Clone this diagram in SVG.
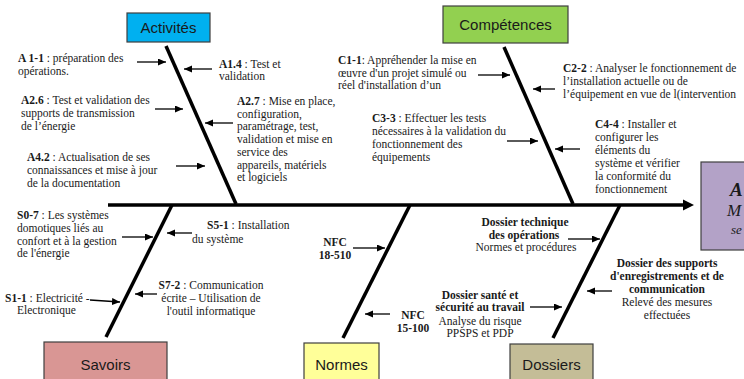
<svg xmlns="http://www.w3.org/2000/svg" width="744" height="379" viewBox="0 0 744 379">
<style>
.t{font-family:"Liberation Serif","Times New Roman",serif;font-size:11.5px;fill:#1a1a1a}
.b{font-weight:bold}
.m{text-anchor:middle}
.box{stroke:#3f3f3f;stroke-width:1.2}
.bt{font-family:"Liberation Sans",Arial,sans-serif;font-size:15px;fill:#1a1a1a;text-anchor:middle}
.bone{stroke:#000;stroke-width:3.5;fill:none}
.arr{stroke:#000;stroke-width:1.3;fill:none;marker-end:url(#ah)}
</style>
<defs>
<marker id="ah" markerUnits="userSpaceOnUse" markerWidth="9" markerHeight="8" refX="8" refY="3.5" orient="auto">
<path d="M0,0 L8,3.5 L0,7 z" fill="#000"/>
</marker>
</defs>
<rect width="744" height="379" fill="#fff"/>

<g id="connectors">
<line class="bone" x1="108" y1="205" x2="685" y2="205"/>
<polygon points="683,199.5 694,205 683,210.5" fill="#000"/>
<line class="bone" x1="166" y1="46" x2="236" y2="204"/>
<line class="bone" x1="504" y1="47" x2="573" y2="204"/>
<line class="bone" x1="172" y1="205" x2="106" y2="337"/>
<line class="bone" x1="410" y1="205" x2="343" y2="338"/>
<line class="bone" x1="620" y1="205" x2="553" y2="338"/>
<line class="arr" x1="137" y1="62" x2="166" y2="62"/>
<line class="arr" x1="212" y1="69" x2="184" y2="69"/>
<line class="arr" x1="155" y1="109" x2="183" y2="109"/>
<line class="arr" x1="233" y1="123" x2="205" y2="123"/>
<line class="arr" x1="176" y1="166" x2="205" y2="166"/>
<line class="arr" x1="478" y1="75" x2="510" y2="75"/>
<line class="arr" x1="555" y1="89" x2="533" y2="89"/>
<line class="arr" x1="507" y1="141" x2="538" y2="141"/>
<line class="arr" x1="580" y1="149" x2="555" y2="149"/>
<line class="arr" x1="122" y1="237" x2="153" y2="237"/>
<line class="arr" x1="192" y1="233" x2="167" y2="233"/>
<line class="arr" x1="157" y1="294" x2="135" y2="294"/>
<line class="arr" x1="90" y1="300" x2="120" y2="302"/>
<line class="arr" x1="353" y1="248" x2="385" y2="248"/>
<line class="arr" x1="390" y1="314" x2="365" y2="314"/>
<line class="arr" x1="568" y1="239" x2="600" y2="239"/>
<line class="arr" x1="612" y1="291" x2="587" y2="291"/>
<line class="arr" x1="530" y1="307" x2="562" y2="307"/>
</g>

<g id="activites">
<rect class="box" x="127" y="13" width="83" height="29" fill="#00b0f0"/>
<text class="bt" x="168.5" y="33">Activités</text>
</g>
<g id="competences">
<rect class="box" x="443" y="6" width="125" height="37" fill="#92d050"/>
<text class="bt" x="505.5" y="30">Compétences</text>
</g>
<g id="savoirs">
<rect class="box" x="44" y="342" width="123" height="45" fill="#d99694"/>
<text class="bt" x="105.5" y="370">Savoirs</text>
</g>
<g id="normes">
<rect class="box" x="304" y="343" width="75" height="44" fill="#ffff99"/>
<text class="bt" x="341.5" y="370">Normes</text>
</g>
<g id="dossiers">
<rect class="box" x="510" y="344" width="83" height="43" fill="#c4bd97"/>
<text class="bt" x="551.5" y="370">Dossiers</text>
</g>
<g id="effet">
<rect class="box" x="701" y="162" width="60" height="88" fill="#b3a2c7"/>
<text x="730" y="196" style="font-family:'Liberation Serif',serif;font-size:19px;font-style:italic;font-weight:bold;fill:#1a1a1a">A</text>
<text x="727" y="216" style="font-family:'Liberation Serif',serif;font-size:17px;font-style:italic;fill:#1a1a1a">M</text>
<text x="731" y="234" style="font-family:'Liberation Serif',serif;font-size:13px;font-style:italic;fill:#1a1a1a">se</text>
</g>

<g id="labels-activites">
<text class="t" x="18" y="62"><tspan class="b">A 1-1</tspan> : préparation des<tspan x="18" y="75">opérations.</tspan></text>
<text class="t" x="219" y="68"><tspan class="b">A1.4</tspan> : Test et<tspan x="219" y="80">validation</tspan></text>
<text class="t" x="21" y="104"><tspan class="b">A2.6</tspan> : Test et validation des<tspan x="21" y="117">supports de transmission</tspan><tspan x="21" y="130">de l’énergie</tspan></text>
<text class="t" x="237" y="105"><tspan class="b">A2.7</tspan> : Mise en place,<tspan x="237" y="117.7">configuration,</tspan><tspan x="237" y="130.4">paramétrage, test,</tspan><tspan x="237" y="143.1">validation et mise en</tspan><tspan x="237" y="155.8">service des</tspan><tspan x="237" y="168.5">appareils, matériels</tspan><tspan x="237" y="181.2">et logiciels</tspan></text>
<text class="t" x="27" y="161"><tspan class="b">A4.2</tspan> : Actualisation de ses<tspan x="27" y="174">connaissances et mise à jour</tspan><tspan x="27" y="187">de la documentation</tspan></text>
</g>

<g id="labels-competences">
<text class="t" x="338" y="64"><tspan class="b">C1-1</tspan>: Appréhender la mise en<tspan x="338" y="77">œuvre d'un projet simulé ou</tspan><tspan x="338" y="89">réel d'installation d’un</tspan></text>
<text class="t" x="563" y="72"><tspan class="b">C2-2</tspan> : Analyser le fonctionnement de<tspan x="563" y="85">l’installation actuelle ou de</tspan><tspan x="563" y="98">l’équipement en vue de l(intervention</tspan></text>
<text class="t" x="372" y="122"><tspan class="b">C3-3</tspan> : Effectuer les tests<tspan x="372" y="135">nécessaires à la validation du</tspan><tspan x="372" y="148">fonctionnement des</tspan><tspan x="372" y="161">équipements</tspan></text>
<text class="t" x="595" y="128"><tspan class="b">C4-4</tspan> : Installer et<tspan x="595" y="141">configurer les</tspan><tspan x="595" y="154">éléments du</tspan><tspan x="595" y="167">système et vérifier</tspan><tspan x="595" y="180">la conformité du</tspan><tspan x="595" y="193">fonctionnement</tspan></text>
</g>

<g id="labels-savoirs">
<text class="t" x="17" y="219"><tspan class="b">S0-7</tspan> : Les systèmes<tspan x="17" y="232">domotiques liés au</tspan><tspan x="17" y="245">confort et à la gestion</tspan><tspan x="17" y="257">de l'énergie</tspan></text>
<text class="t" x="207" y="229"><tspan class="b">S5-1</tspan> : Installation<tspan x="192" y="243">du système</tspan></text>
<text class="t m" x="211" y="289"><tspan class="b">S7-2</tspan> : Communication<tspan x="211" y="302">écrite – Utilisation de</tspan><tspan x="211" y="315">l'outil informatique</tspan></text>
<text class="t" x="5" y="302"><tspan class="b">S1-1</tspan> : Electricité -<tspan x="17" y="314">Electronique</tspan></text>
</g>

<g id="labels-normes">
<text class="t b m" x="335" y="246">NFC<tspan x="335" y="259">18-510</tspan></text>
<text class="t b m" x="413" y="319">NFC<tspan x="413" y="332">15-100</tspan></text>
</g>

<g id="labels-dossiers">
<text class="t m" x="525" y="226"><tspan class="b">Dossier technique</tspan><tspan class="b" x="524" y="239">des opérations</tspan><tspan x="526" y="251">Normes et procédures</tspan></text>
<text class="t m" x="667" y="267"><tspan class="b">Dossier des supports</tspan><tspan class="b" x="667" y="280">d'enregistrements et de</tspan><tspan class="b" x="667" y="293">communication</tspan><tspan x="667" y="306">Relevé des mesures</tspan><tspan x="667" y="319">effectuées</tspan></text>
<text class="t m" x="480" y="299"><tspan class="b">Dossier santé et</tspan><tspan class="b" x="480" y="311">sécurité au travail</tspan><tspan x="480" y="325">Analyse du risque</tspan><tspan x="480" y="337">PPSPS et PDP</tspan></text>
</g>
</svg>
